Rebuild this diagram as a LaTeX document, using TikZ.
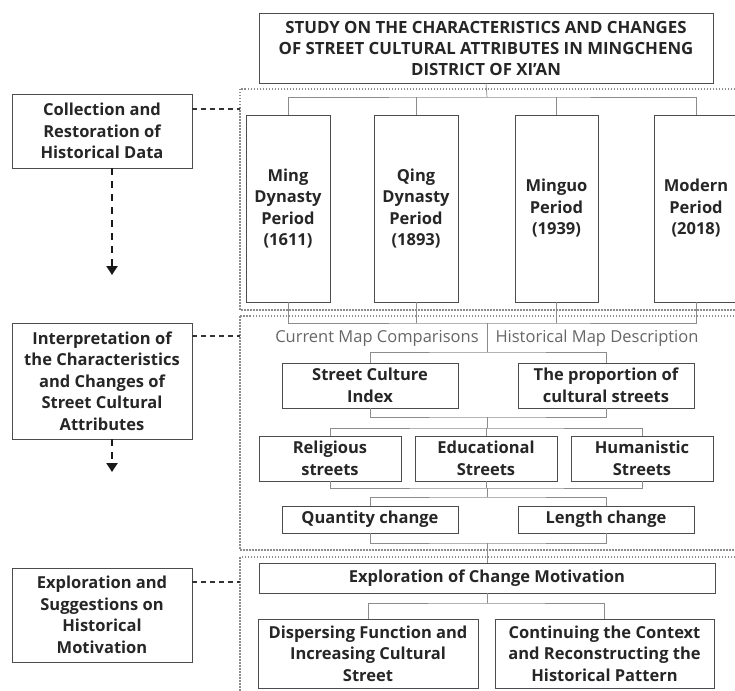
\documentclass[tikz,border=0pt]{standalone}
\usepackage{fontspec}
\setmainfont{Open Sans}
\usetikzlibrary{arrows.meta}
\begin{document}
\begin{tikzpicture}[x=1pt,y=-1pt,
  box/.style={draw=black!70,line width=0.9pt,fill=white,align=center,inner sep=0pt,
    font=\bfseries\fontsize{16.5}{21.5}\selectfont,text=black!85},
  conn/.style={draw=black!45,line width=0.7pt},
  frame/.style={draw=black!45,line width=1.3pt,dash pattern=on 1.5pt off 1.5pt},
  link/.style={draw=black!80,line width=1.1pt,dash pattern=on 5pt off 4pt},
  flow/.style={draw=black!90,line width=2.2pt,dash pattern=on 7pt off 6pt,-{Triangle[length=9pt,width=11pt]}},
  lbl/.style={font=\fontsize{16.5}{17}\selectfont,text=black!60}]
\useasboundingbox (0,0) rectangle (735,690);
\begin{scope}
\clip (0,0) rectangle (735,690);
% dotted frames
\draw[frame] (240,89) rectangle (745,310);
\draw[frame] (240,316) rectangle (745,550);
\draw[frame] (240,557) rectangle (745,700);

% title
\node[box,minimum width=454pt,minimum height=70pt,font=\bfseries\fontsize{16.8}{21}\selectfont] (title) at (486,48)
  {STUDY ON THE CHARACTERISTICS AND CHANGES\\OF STREET CULTURAL ATTRIBUTES IN MINGCHENG\\DISTRICT OF XI'AN};

% period boxes
\node[box,minimum width=84pt,minimum height=187pt] (p1) at (288,208.5) {Ming\\Dynasty\\Period\\(1611)};
\node[box,minimum width=84pt,minimum height=187pt] (p2) at (416,208.5) {Qing\\Dynasty\\Period\\(1893)};
\node[box,minimum width=83pt,minimum height=187pt] (p3) at (556.5,208.5) {Minguo\\Period\\(1939)};
\node[box,minimum width=84pt,minimum height=187pt] (p4) at (696,208.5) {Modern\\Period\\(2018)};

\coordinate (b1) at (487,97);
\draw[conn] (title.south) -- (b1);
\draw[conn] (p1.north) |- (b1) -| (p4.north);
\draw[conn] (p2.north) -- (p2.north |- b1);
\draw[conn] (p3.north) -- (p3.north |- b1);

% labels
\node[lbl] (cmc) at (377,338) {Current Map Comparisons};
\node[lbl] (hmd) at (597,338) {Historical Map Description};

\node[box,minimum width=176pt,minimum height=45pt] (sci) at (370,385.5) {Street Culture\\Index};
\node[box,minimum width=176pt,minimum height=45pt] (prop) at (606,385.5) {The proportion of\\cultural streets};

\coordinate (b2) at (487,323);
\coordinate (b3) at (487,352);
\draw[conn] (p1.south) |- (b2) -| (p4.south);
\draw[conn] (p2.south) -- (p2.south |- b2);
\draw[conn] (p3.south) -- (p3.south |- b2);
\draw[conn] (b2) -- (b3);
\draw[conn] (sci.north) |- (b3) -| (prop.north);

\node[box,minimum width=142pt,minimum height=45pt] (rel) at (330,458.5) {Religious\\streets};
\node[box,minimum width=142pt,minimum height=45pt] (edu) at (486,458.5) {Educational\\Streets};
\node[box,minimum width=142pt,minimum height=45pt] (hum) at (642,458.5) {Humanistic\\Streets};

\coordinate (b4) at (487,417);
\coordinate (b5) at (487,428);
\draw[conn] (sci.south) |- (b4) -| (prop.south);
\draw[conn] (b4) -- (b5);
\draw[conn] (rel.north) |- (b5) -| (hum.north);
\draw[conn] (edu.north) -- (edu.north |- b5);

\node[box,minimum width=176pt,minimum height=27pt] (qty) at (370,519.5) {Quantity change};
\node[box,minimum width=176pt,minimum height=27pt] (len) at (606,519.5) {Length change};

\coordinate (b6) at (487,488);
\coordinate (b7) at (487,497);
\draw[conn] (rel.south) |- (b6) -| (hum.south);
\draw[conn] (edu.south) -- (edu.south |- b6);
\draw[conn] (b6) -- (b7);
\draw[conn] (qty.north) |- (b7) -| (len.north);

\node[box,minimum width=456pt,minimum height=30pt] (expl) at (487,578) {Exploration of Change Motivation};

\coordinate (b8) at (487,543);
\draw[conn] (qty.south) |- (b8) -| (len.south);
\draw[conn] (b8) -- (expl.north);

\node[box,minimum width=220pt,minimum height=69pt] (disp) at (368,653.5) {Dispersing Function and\\Increasing Cultural\\Street};
\node[box,minimum width=219pt,minimum height=69pt] (cont) at (604.5,653.5) {Continuing the Context\\and Reconstructing the\\Historical Pattern};

\coordinate (b9) at (487,603);
\draw[conn] (expl.south) -- (b9);
\draw[conn] (disp.north) |- (b9) -| (cont.north);

% left column
\node[box,minimum width=180pt,minimum height=74pt] (coll) at (102,131) {Collection and\\Restoration of\\Historical Data};
\node[box,minimum width=180pt,minimum height=116pt] (interp) at (102,381) {Interpretation of\\the Characteristics\\and Changes of\\Street Cultural\\Attributes};
\node[box,minimum width=180pt,minimum height=94pt] (sugg) at (102,615) {Exploration and\\Suggestions on\\Historical\\Motivation};

\coordinate (e1) at (240,109);
\coordinate (e2) at (240,336);
\coordinate (e3) at (240,582);
\draw[link] (coll.east |- e1) -- (e1);
\draw[link] (interp.east |- e2) -- (e2);
\draw[link] (sugg.east |- e3) -- (e3);

\coordinate (a1) at (112,275);
\coordinate (a2) at (112,472);
\draw[flow] (coll.south -| a1) -- (a1);
\draw[flow] (interp.south -| a2) -- (a2);
\end{scope}
\end{tikzpicture}
\end{document}
